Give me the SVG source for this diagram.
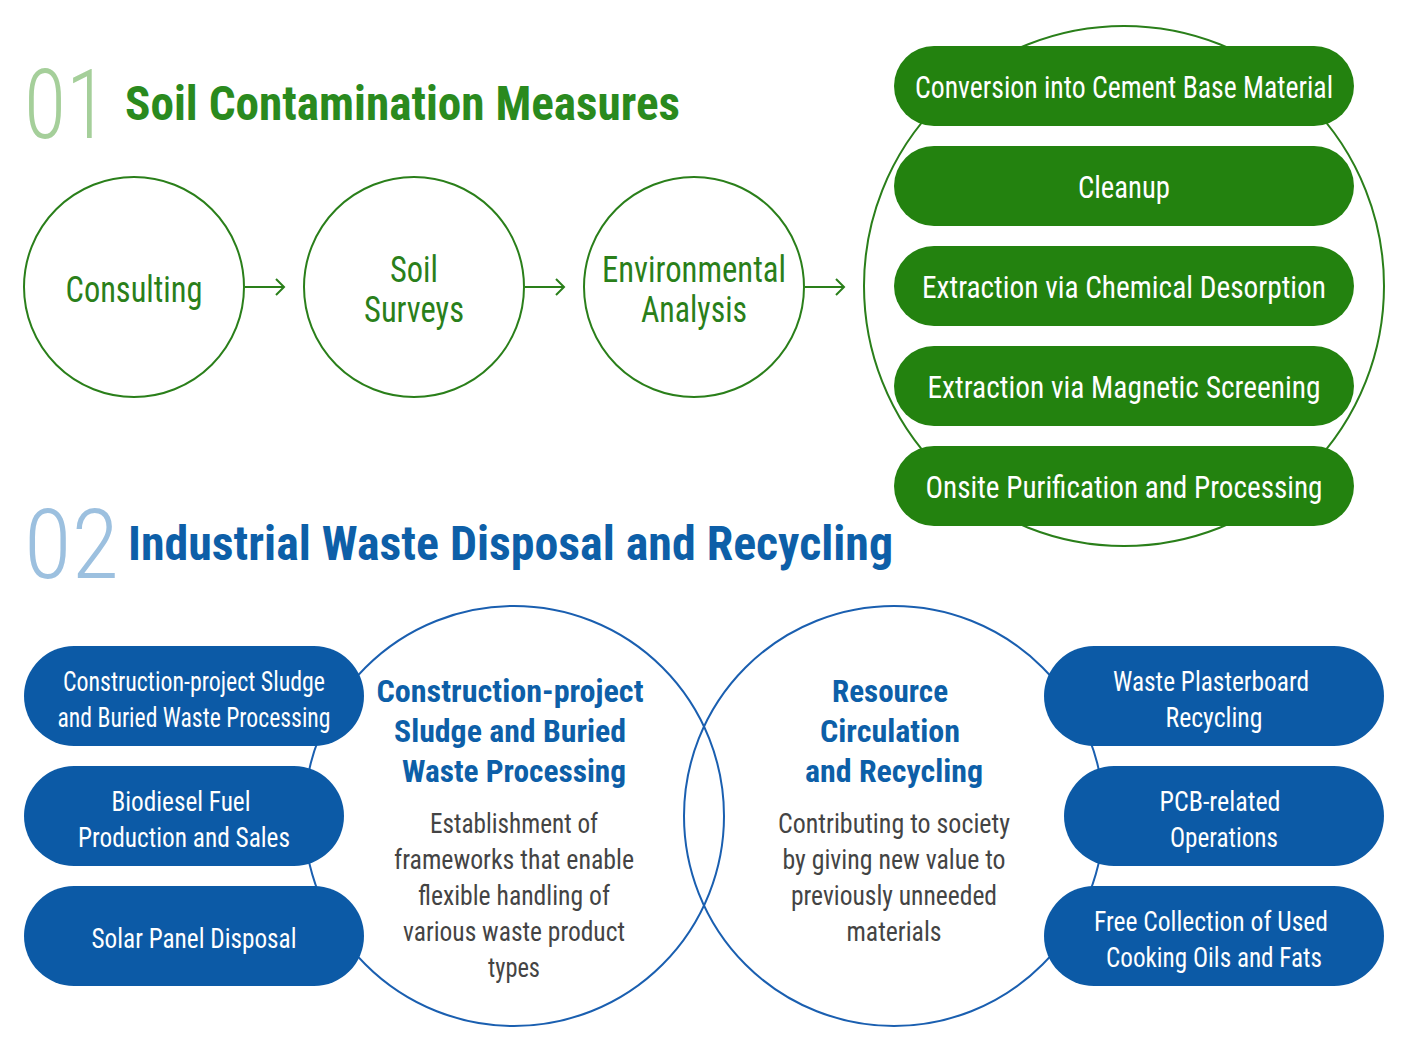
<svg xmlns="http://www.w3.org/2000/svg" width="1408" height="1050" viewBox="0 0 1408 1050">
<style>
text{font-family:"Roboto Condensed",Roboto,"Liberation Sans",sans-serif;text-anchor:middle}
.num{font-weight:300;font-size:96px;text-anchor:start}
.t1{fill:#2a8a1e;font-weight:700;font-size:48px;text-anchor:start}
.t2{fill:#0d5fa8;font-weight:700;font-size:48px;text-anchor:start}
.gc{fill:#fff;stroke:#2a7f1a;stroke-width:2}
.gt{fill:#2a7f1a;font-size:36px}
.gp{fill:#23820f}
.w{fill:#fff;font-size:32px}
.wb{fill:#fff;font-size:28px}
.bc{fill:#fff;stroke:#1a5fb0;stroke-width:2}
.bp{fill:#0c5aa6}
.bh{fill:#0d5fa8;font-weight:700;font-size:32px}
.bt{fill:#444;font-size:28px}
.arr{stroke:#2a7f1a;stroke-width:2;fill:none}
</style>
<text class="num" x="24" y="138" fill="#a5cf9a" textLength="84" lengthAdjust="spacingAndGlyphs">01</text>
<text class="t1" x="125" y="120" textLength="555" lengthAdjust="spacingAndGlyphs">Soil Contamination Measures</text>
<text class="num" x="24" y="578" fill="#9cc0df" textLength="95" lengthAdjust="spacingAndGlyphs">02</text>
<text class="t2" x="128" y="560" textLength="765" lengthAdjust="spacingAndGlyphs">Industrial Waste Disposal and Recycling</text>
<g id="connectors">
<path class="arr" d="M245 287H284M276 279L284 287L276 295"/>
<path class="arr" d="M525 287H564M556 279L564 287L556 295"/>
<path class="arr" d="M805 287H844M836 279L844 287L836 295"/>
</g>
<g id="consulting"><circle class="gc" cx="134" cy="287" r="110"/><text class="gt" x="134" y="302" textLength="137" lengthAdjust="spacingAndGlyphs">Consulting</text></g>
<g id="soil-surveys"><circle class="gc" cx="414" cy="287" r="110"/><text class="gt" x="414" y="282" textLength="48" lengthAdjust="spacingAndGlyphs">Soil</text><text class="gt" x="414" y="322" textLength="100" lengthAdjust="spacingAndGlyphs">Surveys</text></g>
<g id="env-analysis"><circle class="gc" cx="694" cy="287" r="110"/><text class="gt" x="694" y="282" textLength="184" lengthAdjust="spacingAndGlyphs">Environmental</text><text class="gt" x="694" y="322" textLength="106" lengthAdjust="spacingAndGlyphs">Analysis</text></g>
<g id="measures">
<circle class="gc" cx="1124" cy="286" r="260"/>
<rect class="gp" x="894" y="46" width="460" height="80" rx="40"/><text class="w" x="1124" y="98" textLength="418" lengthAdjust="spacingAndGlyphs">Conversion into Cement Base Material</text>
<rect class="gp" x="894" y="146" width="460" height="80" rx="40"/><text class="w" x="1124" y="198" textLength="92" lengthAdjust="spacingAndGlyphs">Cleanup</text>
<rect class="gp" x="894" y="246" width="460" height="80" rx="40"/><text class="w" x="1124" y="298" textLength="404" lengthAdjust="spacingAndGlyphs">Extraction via Chemical Desorption</text>
<rect class="gp" x="894" y="346" width="460" height="80" rx="40"/><text class="w" x="1124" y="398" textLength="393" lengthAdjust="spacingAndGlyphs">Extraction via Magnetic Screening</text>
<rect class="gp" x="894" y="446" width="460" height="80" rx="40"/><text class="w" x="1124" y="498" textLength="397" lengthAdjust="spacingAndGlyphs">Onsite Purification and Processing</text>
</g>
<g id="left-circle"><circle class="bc" cx="514" cy="816" r="210"/>
<text class="bh" x="510" y="702" textLength="267" lengthAdjust="spacingAndGlyphs">Construction-project</text>
<text class="bh" x="510" y="742" textLength="232" lengthAdjust="spacingAndGlyphs">Sludge and Buried</text>
<text class="bh" x="514" y="782" textLength="224" lengthAdjust="spacingAndGlyphs">Waste Processing</text>
<text class="bt" x="514" y="833" textLength="168" lengthAdjust="spacingAndGlyphs">Establishment of</text>
<text class="bt" x="514" y="869" textLength="240" lengthAdjust="spacingAndGlyphs">frameworks that enable</text>
<text class="bt" x="514" y="905" textLength="192" lengthAdjust="spacingAndGlyphs">flexible handling of</text>
<text class="bt" x="514" y="941" textLength="222" lengthAdjust="spacingAndGlyphs">various waste product</text>
<text class="bt" x="514" y="977" textLength="52" lengthAdjust="spacingAndGlyphs">types</text>
</g>
<g id="right-circle"><circle class="bc" cx="894" cy="816" r="210" fill="none" style="fill:none"/>
<text class="bh" x="890" y="702" textLength="116" lengthAdjust="spacingAndGlyphs">Resource</text>
<text class="bh" x="890" y="742" textLength="140" lengthAdjust="spacingAndGlyphs">Circulation</text>
<text class="bh" x="894" y="782" textLength="178" lengthAdjust="spacingAndGlyphs">and Recycling</text>
<text class="bt" x="894" y="833" textLength="232" lengthAdjust="spacingAndGlyphs">Contributing to society</text>
<text class="bt" x="894" y="869" textLength="223" lengthAdjust="spacingAndGlyphs">by giving new value to</text>
<text class="bt" x="894" y="905" textLength="206" lengthAdjust="spacingAndGlyphs">previously unneeded</text>
<text class="bt" x="894" y="941" textLength="95" lengthAdjust="spacingAndGlyphs">materials</text>
</g>
<g id="lp1"><rect class="bp" x="24" y="646" width="340" height="100" rx="50"/><text class="wb" x="194" y="691" textLength="262" lengthAdjust="spacingAndGlyphs">Construction-project Sludge</text><text class="wb" x="194" y="727" textLength="273" lengthAdjust="spacingAndGlyphs">and Buried Waste Processing</text></g>
<g id="lp2"><rect class="bp" x="24" y="766" width="320" height="100" rx="50"/><text class="wb" x="181" y="811" textLength="139" lengthAdjust="spacingAndGlyphs">Biodiesel Fuel</text><text class="wb" x="184" y="847" textLength="212" lengthAdjust="spacingAndGlyphs">Production and Sales</text></g>
<g id="lp3"><rect class="bp" x="24" y="886" width="340" height="100" rx="50"/><text class="wb" x="194" y="948" textLength="205" lengthAdjust="spacingAndGlyphs">Solar Panel Disposal</text></g>
<g id="rp1"><rect class="bp" x="1044" y="646" width="340" height="100" rx="50"/><text class="wb" x="1211" y="691" textLength="196" lengthAdjust="spacingAndGlyphs">Waste Plasterboard</text><text class="wb" x="1214" y="727" textLength="97" lengthAdjust="spacingAndGlyphs">Recycling</text></g>
<g id="rp2"><rect class="bp" x="1064" y="766" width="320" height="100" rx="50"/><text class="wb" x="1220" y="811" textLength="121" lengthAdjust="spacingAndGlyphs">PCB-related</text><text class="wb" x="1224" y="847" textLength="108" lengthAdjust="spacingAndGlyphs">Operations</text></g>
<g id="rp3"><rect class="bp" x="1044" y="886" width="340" height="100" rx="50"/><text class="wb" x="1211" y="931" textLength="234" lengthAdjust="spacingAndGlyphs">Free Collection of Used</text><text class="wb" x="1214" y="967" textLength="216" lengthAdjust="spacingAndGlyphs">Cooking Oils and Fats</text></g>
</svg>
